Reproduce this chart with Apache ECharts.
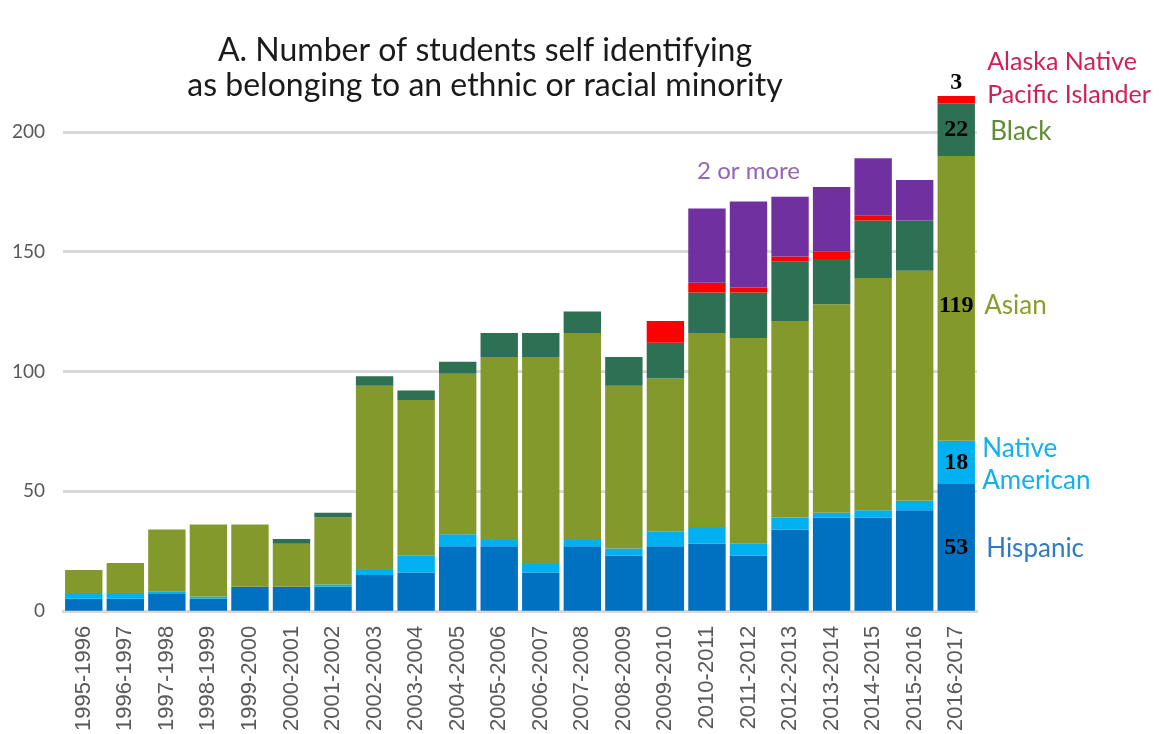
<!DOCTYPE html>
<html>
<head>
<meta charset="utf-8">
<script src="https://cdn.jsdelivr.net/npm/echarts@6/dist/echarts.min.js"></script>
<style>
html,body{margin:0;padding:0;background:#fff;}
#chart{width:1159px;height:734px;}
</style>
</head>
<body>
<div id="chart"></div>
<script>
const categories = ['1995-1996','1996-1997','1997-1998','1998-1999','1999-2000','2000-2001','2001-2002','2002-2003','2003-2004','2004-2005','2005-2006','2006-2007','2007-2008','2008-2009','2009-2010','2010-2011','2011-2012','2012-2013','2013-2014','2014-2015','2015-2016','2016-2017'];
const hispanic       = [5,5,7,5,10,10,10,15,16,27,27,16,27,23,27,28,23,34,39,39,42,53];
const nativeAmerican = [2,2,1,1,0,0,1,2,7,5,3,4,3,3,6,7,5,5,2,3,4,18];
const asian          = [10,13,26,30,26,18,28,77,65,67,76,86,86,68,64,81,86,82,87,97,96,119];
const black          = [0,0,0,0,0,2,2,4,4,5,10,10,9,12,15,17,19,25,19,24,21,22];
const alaskaPacific  = [0,0,0,0,0,0,0,0,0,0,0,0,0,0,9,4,2,2,3,2,0,3];
const twoOrMore      = [0,0,0,0,0,0,0,0,0,0,0,0,0,0,0,31,36,25,27,24,17,0];
const yTicks = [0, 50, 100, 150, 200];

const last = categories.length - 1;
const lastCat = categories[last];
const numFont = {fontFamily:'Liberation Serif', fontWeight:'bold', fontSize:24, color:'#000'};

function withLastLabel(arr, labelOpt){
  return arr.map((v,i)=> i===last ? {value:v, label:Object.assign({show:true}, labelOpt)} : v);
}
const lastStack = [hispanic, nativeAmerican, asian, black, alaskaPacific].map(a=>a[last]);
const cum = []; lastStack.reduce((s,v,i)=>{cum[i]=s+v; return s+v;},0);
const mid = i => (i===0?0:cum[i-1]) + lastStack[i]/2;

const base = {type:'bar', stack:'total', barCategoryGap:'10%', clip:false, animation:false};

const option = {
  backgroundColor:'#fff',
  title:{
    text:'A. Number of students self identifying\nas belonging to an ethnic or racial minority',
    left:480, top:28, textAlign:'center',
    textStyle:{fontFamily:'Lato', fontSize:32, fontWeight:'normal', color:'#1a1a1a', lineHeight:35}
  },
  grid:{left:63, right:182, top:132, bottom:122.5, containLabel:false},
  xAxis:{
    type:'category', data:categories,
    axisLine:{show:true, lineStyle:{color:'#D9D9D9', width:3}},
    axisTick:{show:false},
    axisLabel:{rotate:90, margin:15, fontFamily:'Liberation Sans', fontSize:22, color:'#595959', interval:0}
  },
  yAxis:{
    type:'value', min:0, max:200, interval:50,
    axisLine:{show:false}, axisTick:{show:false},
    axisLabel:{margin:18, fontFamily:'Lato', fontSize:19, color:'#595959',
      formatter: v => yTicks.indexOf(v) >= 0 ? String(v) : ''},
    splitLine:{lineStyle:{color:'#D9D9D9', width:3}}
  },
  series:[
    Object.assign({}, base, {name:'Hispanic', itemStyle:{color:'#0070C0'},
      data:withLastLabel(hispanic, Object.assign({position:'inside'}, numFont))}),
    Object.assign({}, base, {name:'Native American', itemStyle:{color:'#00B0F0'},
      data:withLastLabel(nativeAmerican, Object.assign({position:'inside'}, numFont))}),
    Object.assign({}, base, {name:'Asian', itemStyle:{color:'#84992B'},
      data:withLastLabel(asian, Object.assign({position:'inside', offset:[0,7]}, numFont))}),
    Object.assign({}, base, {name:'Black', itemStyle:{color:'#2D7053'},
      data:withLastLabel(black, Object.assign({position:'inside'}, numFont))}),
    Object.assign({}, base, {name:'Alaska Native Pacific Islander', itemStyle:{color:'#FF0000'},
      data:withLastLabel(alaskaPacific, Object.assign({position:'top', distance:1}, numFont))}),
    Object.assign({}, base, {name:'2 or more', itemStyle:{color:'#7030A0'}, data:twoOrMore})
  ]
};

const chart = echarts.init(document.getElementById('chart'), null, {renderer:'canvas'});
chart.setOption(option);

// Series name labels placed through the chart's own axis conversion
const xLast = chart.convertToPixel({xAxisIndex:0}, lastCat);
const yPx = v => chart.convertToPixel({yAxisIndex:0}, v);
const nameLabels = [
  {text:'Hispanic', color:'#2F7CC4', val:mid(0), dx:30, dy:1, size:26, lh:32},
  {text:'Native\nAmerican', color:'#12B0EE', val:mid(1), dx:26, dy:2, size:26, lh:32},
  {text:'Asian', color:'#8D9C2E', val:mid(2), dx:28, dy:7, size:26, lh:32},
  {text:'Black', color:'#5E8C32', val:mid(3), dx:34, dy:2, size:26, lh:32},
  {text:'Alaska Native\nPacific Islander', color:'#CC2257', val:cum[4], dx:31, dy:-18, size:25, lh:33}
];
const i2 = categories.indexOf('2011-2012');
const top2 = hispanic[i2]+nativeAmerican[i2]+asian[i2]+black[i2]+alaskaPacific[i2]+twoOrMore[i2];
const graphics = nameLabels.map(n => ({
  type:'text', silent:true,
  x: xLast + n.dx, y: yPx(n.val) + n.dy,
  style:{text:n.text, fill:n.color, font:n.size+'px Lato', lineHeight:n.lh, align:'left', verticalAlign:'middle'}
}));
graphics.push({
  type:'text', silent:true,
  x: chart.convertToPixel({xAxisIndex:0}, '2011-2012'), y: yPx(top2) - 30,
  style:{text:'2 or more', fill:'#9466B6', font:'24px Lato', align:'center', verticalAlign:'middle'}
});
chart.setOption({graphic:graphics});
</script>
</body>
</html>
